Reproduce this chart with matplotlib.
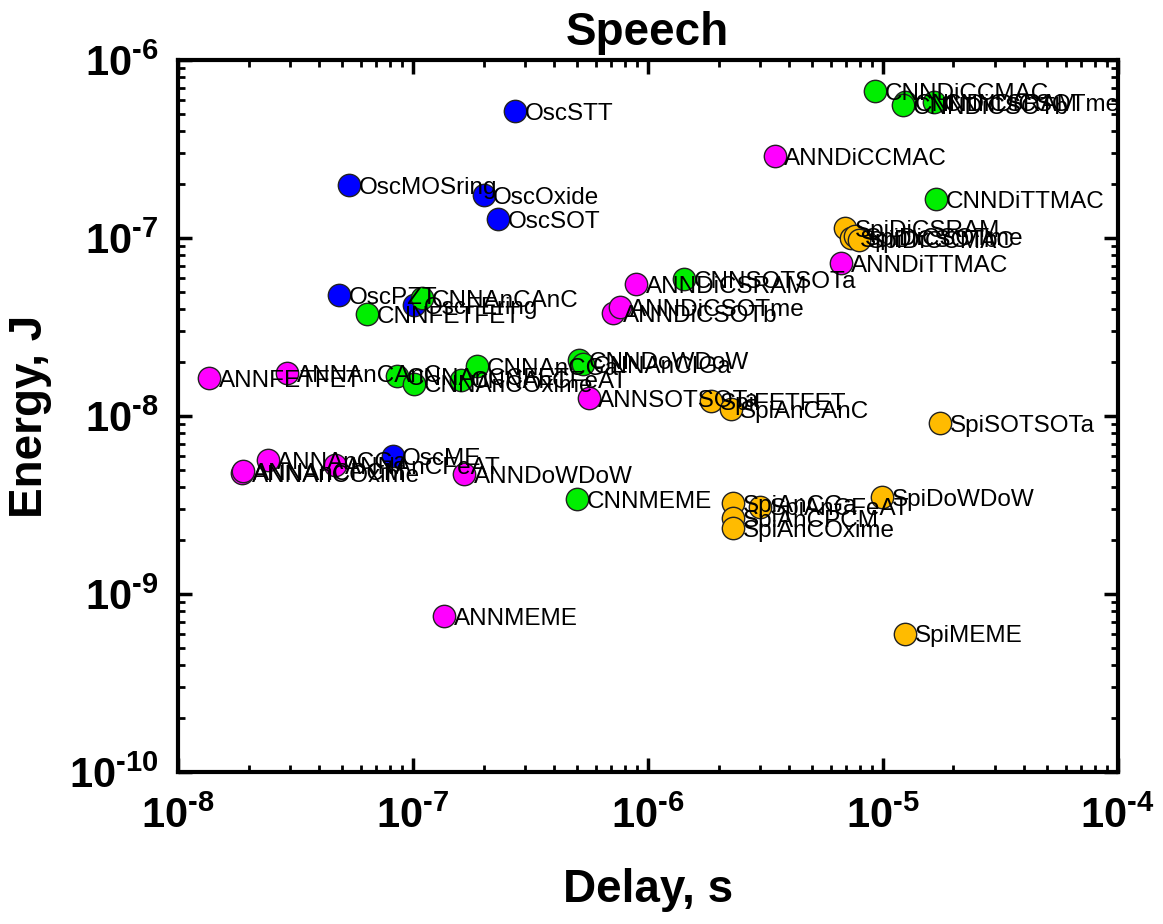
import matplotlib.pyplot as plt
from matplotlib.ticker import FuncFormatter, LogLocator
import numpy as np

plt.rcParams['font.family'] = ['Liberation Sans', 'DejaVu Sans']
plt.rcParams['mathtext.fontset'] = 'custom'
plt.rcParams['mathtext.rm'] = 'Liberation Sans'
plt.rcParams['mathtext.bf'] = 'Liberation Sans:bold'

# oscillator-based
osc_names = ['OscSTT', 'OscMOSring', 'OscOxide', 'OscSOT', 'OscPZT', 'OscFEring', 'OscME']
osc_delay = [2.72e-7, 5.34e-8, 2.0e-7, 2.3e-7, 4.84e-8, 1.01e-7, 8.2e-8]
osc_energy = [5.17e-7, 1.99e-7, 1.74e-7, 1.28e-7, 4.78e-8, 4.2e-8, 5.96e-9]

# CNN
cnn_names = ['CNNDiCCMAC', 'CNNDiCSRAM', 'CNNDiCSOTb', 'CNNDiCSOTme', 'CNNDiTTMAC',
             'CNNSOTSOTa', 'CNNAnCAnC', 'CNNFETFET', 'CNNDoWDoW', 'CNNAnCIGa',
             'CNNAnCGa', 'CNNAnCCFET', 'CNNAnCOxime', 'CNNAnCFeAT', 'CNNMEME']
cnn_delay = [9.3e-6, 1.24e-5, 1.22e-5, 1.66e-5, 1.68e-5,
             1.42e-6, 1.09e-7, 6.37e-8, 5.09e-7, 5.3e-7,
             1.87e-7, 8.6e-8, 1.01e-7, 1.6e-7, 5.0e-7]
cnn_energy = [6.7e-7, 5.8e-7, 5.6e-7, 5.8e-7, 1.66e-7,
              5.89e-8, 4.6e-8, 3.74e-8, 2.06e-8, 1.95e-8,
              1.91e-8, 1.68e-8, 1.52e-8, 1.6e-8, 3.4e-9]

# ANN
ann_names = ['ANNDiCCMAC', 'ANNDiTTMAC', 'ANNDiCSRAM', 'ANNDiCSOTb', 'ANNDiCSOTme',
             'ANNFETFET', 'ANNAnCAnC', 'ANNSOTSOTa', 'ANNAnCGa', 'ANNAnCOxime',
             'ANNAnCPCM', 'ANNAnCFeAT', 'ANNDoWDoW', 'ANNMEME']
ann_delay = [3.47e-6, 6.63e-6, 8.9e-7, 7.1e-7, 7.6e-7,
             1.36e-8, 2.91e-8, 5.6e-7, 2.41e-8, 1.87e-8,
             1.9e-8, 4.66e-8, 1.65e-7, 1.36e-7]
ann_energy = [2.89e-7, 7.24e-8, 5.52e-8, 3.79e-8, 4.1e-8,
              1.63e-8, 1.75e-8, 1.26e-8, 5.66e-9, 4.79e-9,
              4.9e-9, 5.3e-9, 4.72e-9, 7.5e-10]

# spiking
spi_names = ['SpiDiCSRAM', 'SpiDiCSOTb', 'SpiDiCSOTme', 'SpiDiCCMAC', 'SpiFETFET',
             'SpiAnCAnC', 'SpiSOTSOTa', 'SpiDoWDoW', 'SpiAnCGa', 'SpiAnCFeAT',
             'SpiAnCPCM', 'SpiAnCOxime', 'SpiMEME']
spi_delay = [6.89e-6, 7.3e-6, 7.6e-6, 7.9e-6, 1.85e-6,
             2.25e-6, 1.75e-5, 9.9e-6, 2.3e-6, 3.0e-6,
             2.3e-6, 2.3e-6, 1.25e-5]
spi_energy = [1.14e-7, 1.0e-7, 1.03e-7, 9.8e-8, 1.21e-8,
              1.09e-8, 9.14e-9, 3.51e-9, 3.24e-9, 3.1e-9,
              2.67e-9, 2.35e-9, 6.0e-10]

groups = [
    (osc_names, osc_delay, osc_energy, '#0000ff'),
    (cnn_names, cnn_delay, cnn_energy, '#00ee00'),
    (ann_names, ann_delay, ann_energy, '#ff00ff'),
    (spi_names, spi_delay, spi_energy, '#ffbb00'),
]

fig = plt.figure(figsize=(11.63, 9.24), dpi=100)
ax = fig.add_axes([0.153, 0.1645, 0.808, 0.7705])

for names, d, e, c in groups:
    ax.scatter(d, e, s=260, color=c, edgecolors='#222222', linewidths=1.0, zorder=3)
    for n, xx, yy in zip(names, d, e):
        ax.annotate(n, (xx, yy), xytext=(7, -2), textcoords='offset points',
                    fontsize=17.5, va='center', ha='left', zorder=4)

ax.set_xscale('log')
ax.set_yscale('log')
ax.set_xlim(1e-8, 1e-4)
ax.set_ylim(1e-10, 1e-6)
ax.xaxis.set_major_locator(LogLocator(base=10, numticks=10))
ax.yaxis.set_major_locator(LogLocator(base=10, numticks=10))
# hyphen instead of the long mathtext minus, like the original
fmt = FuncFormatter(lambda v, p: '$\\mathbf{10^{\u2010%d}}$' % abs(round(np.log10(v))))
ax.xaxis.set_major_formatter(fmt)
ax.yaxis.set_major_formatter(fmt)

ax.set_xlabel('Delay, s', fontsize=33, fontweight='bold')
ax.set_ylabel('Energy, J', fontsize=33, fontweight='bold')
ax.xaxis.set_label_coords(0.5, -0.135)
ax.yaxis.set_label_coords(-0.134, 0.5)
ax.set_title('Speech', fontsize=33, fontweight='bold', pad=11)

ax.tick_params(which='both', direction='in', top=True, right=True)
ax.tick_params(which='major', length=10, width=2.5, labelsize=30)
ax.tick_params(axis='x', which='major', pad=18)
ax.tick_params(axis='y', which='major', pad=14)
ax.tick_params(which='minor', length=5, width=2)
for sp in ax.spines.values():
    sp.set_linewidth(3)

fig.savefig('out.png', dpi=100)
